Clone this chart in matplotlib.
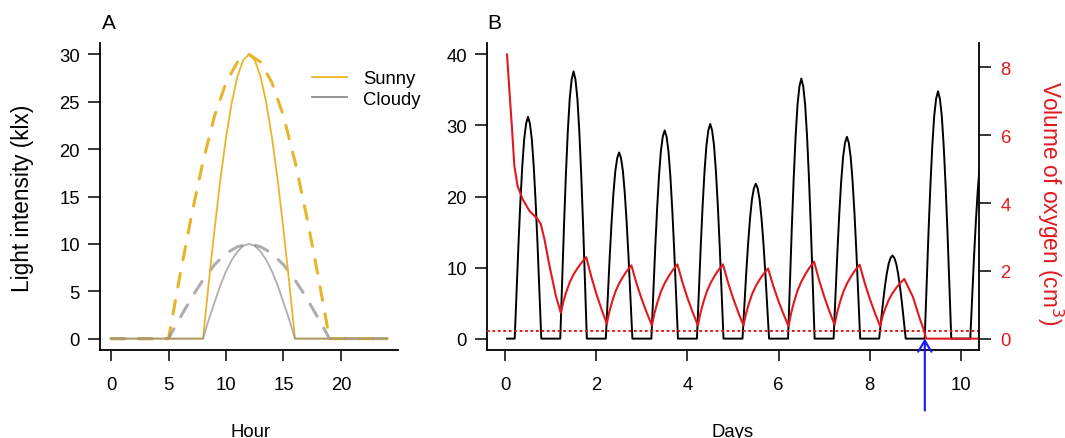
import matplotlib.pyplot as plt
import numpy as np

plt.rcParams['font.family'] = ['Liberation Sans', 'DejaVu Sans']
plt.rcParams['font.size'] = 13.3

# Panel A: light intensity over one day (klx)
hour_solid = [0, 8, 8.5, 9, 9.5, 10, 10.5, 11, 11.5, 12, 12.5, 13, 13.5, 14, 14.5, 15, 15.5, 16, 24]
sunny_solid = [0, 0, 5.9, 11.5, 16.7, 21.2, 24.9, 27.7, 29.4, 30.0, 29.4, 27.7, 24.9, 21.2, 16.7, 11.5, 5.9, 0, 0]
cloudy_solid = [0, 0, 2.0, 3.8, 5.6, 7.1, 8.3, 9.2, 9.8, 10.0, 9.8, 9.2, 8.3, 7.1, 5.6, 3.8, 2.0, 0, 0]

hour_dashed = [0, 5, 6, 7, 8, 9, 10, 11, 12, 13, 14, 15, 16, 17, 18, 19, 24]
sunny_dashed = [0, 0, 6.7, 13.0, 18.7, 23.5, 27.0, 29.2, 30.0, 29.2, 27.0, 23.5, 18.7, 13.0, 6.7, 0, 0]
cloudy_dashed = [0, 0, 2.2, 4.3, 6.2, 7.8, 9.0, 9.7, 10.0, 9.7, 9.0, 7.8, 6.2, 4.3, 2.2, 0, 0]

# Panel B: daily light (black), peak per day and shape over the 24 hours
day_peaks = [31.2, 37.6, 26.2, 29.3, 30.2, 21.8, 36.6, 28.4, 11.7, 34.8, 27.0]
day_profile = [0, 0, 0, 0, 0, 0, 0.22, 0.43, 0.62, 0.78, 0.90, 0.97, 1.0,
               0.97, 0.90, 0.78, 0.62, 0.43, 0.22, 0, 0, 0, 0, 0]

# Panel B: oxygen volume (red, cm3)
o2_start_days = [0.04, 0.09, 0.15, 0.20, 0.27, 0.38, 0.53, 0.71, 0.78, 0.86, 0.97, 1.11]
o2_start_vals = [8.38, 7.35, 6.18, 5.10, 4.51, 4.12, 3.77, 3.53, 3.38, 2.94, 2.16, 1.27]
o2_min_days = [1.22, 2.23, 3.22, 4.23, 5.23, 6.22, 7.23, 8.23]
o2_min_vals = [0.76, 0.44, 0.39, 0.39, 0.39, 0.37, 0.41, 0.37]
o2_peak_days = [1.78, 2.77, 3.78, 4.78, 5.77, 6.78, 7.78, 8.76]
o2_peak_vals = [2.40, 2.16, 2.19, 2.19, 2.07, 2.27, 2.18, 1.76]
rise_t = [0, 0.1, 0.21, 0.35, 0.5, 0.65, 0.79, 0.9, 1.0]
rise_v = [0, 0.2, 0.37, 0.55, 0.69, 0.80, 0.89, 0.95, 1.0]
fall_t = [0.25, 0.5, 0.75]
fall_v = [0.70, 0.44, 0.21]
o2_end_days = [8.95, 9.10, 9.19, 9.24, 10.6]
o2_end_vals = [1.23, 0.59, 0.25, 0.0, 0.0]
o2_threshold = 0.23
arrow_day = 9.21

sunny_col = '#E8B52A'
cloudy_col = '#8C8C8C'
red = '#E0191E'

fig = plt.figure(figsize=(10.65, 4.39), dpi=100)

# ---- Panel A
axA = fig.add_axes([100/1065, 1-351/439, 298/1065, 307/439])
axA.plot(hour_dashed, sunny_dashed, color=sunny_col, lw=2.2, dashes=(4.5, 4.5), dash_capstyle='round')
axA.plot(hour_dashed, cloudy_dashed, color=cloudy_col, lw=2.2, dashes=(4.5, 4.5), dash_capstyle='round', alpha=0.7)
axA.plot(hour_solid, sunny_solid, color=sunny_col, lw=1.3, label='Sunny')
axA.plot(hour_solid, cloudy_solid, color=cloudy_col, lw=1.3, label='Cloudy', alpha=0.7)
axA.set_xlim(-0.96, 24.96)
axA.set_ylim(-1.2, 31.2)
axA.set_xticks([0, 5, 10, 15, 20])
axA.set_yticks([0, 5, 10, 15, 20, 25, 30])
leg = axA.legend(loc='upper left', bbox_to_anchor=(312/1065, 1-71/439), bbox_transform=fig.transFigure,
                 frameon=False, borderpad=0, borderaxespad=0, handlelength=1.9, handletextpad=0.85,
                 labelspacing=0.2, fontsize=13.3)
for h in leg.legend_handles:
    h.set_alpha(1)

# ---- Panel B
axB = fig.add_axes([487/1065, 1-351/439, 492/1065, 307/439])
hours = np.arange(1, 24*10 + 18)
light = [day_peaks[h // 24] * day_profile[h % 24] for h in hours]
axB.plot(hours/24, light, color='black', lw=1.4)
axB.set_xlim(-0.4, 10.4)
axB.set_ylim(-1.6, 41.6)
axB.set_xticks([0, 2, 4, 6, 8, 10])
axB.set_yticks([0, 10, 20, 30, 40])

# build oxygen series from the read extremes
o2_days = list(o2_start_days)
o2_vals = list(o2_start_vals)
for i in range(len(o2_min_days)):
    lo, hi = o2_min_vals[i], o2_peak_vals[i]
    for ft, fv in zip(rise_t, rise_v):
        o2_days.append(o2_min_days[i] + ft*(o2_peak_days[i]-o2_min_days[i]))
        o2_vals.append(lo + fv*(hi-lo))
    if i+1 < len(o2_min_days):
        nlo = o2_min_vals[i+1]
        for ft, fv in zip(fall_t, fall_v):
            o2_days.append(o2_peak_days[i] + ft*(o2_min_days[i+1]-o2_peak_days[i]))
            o2_vals.append(nlo + fv*(hi-nlo))
o2_days += o2_end_days
o2_vals += o2_end_vals

axB2 = axB.twinx()
axB2.plot(o2_days, o2_vals, color=red, lw=1.5)
axB2.axhline(o2_threshold, color=red, lw=1.4, dashes=(1.4, 1.4))
axB2.set_ylim(-0.335, 8.72)
axB2.set_yticks([0, 2, 4, 6, 8])
axB2.tick_params(axis='y', colors='black', labelcolor=red, length=8.5, width=1.1, pad=7)
axB2.annotate('', xy=(arrow_day, 0.0), xytext=(arrow_day, -2.12), annotation_clip=False,
              arrowprops=dict(arrowstyle='->, head_length=0.5, head_width=0.3', color='#1414FF',
                              lw=1.5, mutation_scale=16, shrinkA=0, shrinkB=0, clip_on=False))

# Decoration
for ax in [axA, axB]:
    ax.spines['top'].set_visible(False)
    ax.spines['right'].set_visible(False)
    ax.tick_params(axis='x', length=8, width=1.1, pad=11)
    ax.tick_params(axis='y', length=8.5, width=1.1, pad=6)
for ax in [axA, axB, axB2]:
    for s in ax.spines.values():
        s.set_linewidth(1.3)
axB2.spines['top'].set_visible(False)
axB2.spines['left'].set_visible(False)
axB2.spines['bottom'].set_visible(False)

fig.text(102/1065, 1-29/439, 'A', fontsize=15, ha='left', va='baseline')
fig.text(487/1065, 1-29/439, 'B', fontsize=15, ha='left', va='baseline')
fig.text(23/1065, 1-198/439, 'Light intensity (klx)', rotation=90, ha='center', va='center',
         fontsize=16.3)
fig.text(250/1065, 1-437/439, 'Hour', ha='center', va='baseline')
fig.text(733/1065, 1-437/439, 'Days', ha='center', va='baseline')
fig.text(1050/1065, 1-203/439, 'Volume of oxygen (cm$^3$)', rotation=270, ha='center', va='center',
         color=red, fontsize=16.3)

plt.savefig('out.png', dpi=100)
